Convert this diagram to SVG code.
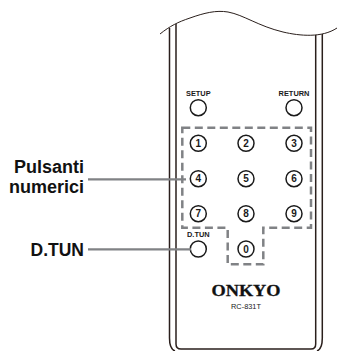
<svg xmlns="http://www.w3.org/2000/svg" width="337" height="351" viewBox="0 0 337 351">
<style>
.body{fill:none;stroke:#2a1f1c;stroke-width:1.500}
.btn circle{fill:#fff;stroke:#1a1a1a;stroke-width:1.500}
.num{font:bold 10px "Liberation Sans",Arial,sans-serif;fill:#1a1a1a;text-anchor:middle}
.tiny{font:bold 7.400px "Liberation Sans",Arial,sans-serif;fill:#1a1a1a;text-anchor:middle}
.lab{font:bold 18px "Liberation Sans",Arial,sans-serif;fill:#111;text-anchor:end}
.lead{fill:none;stroke:#808285;stroke-width:2.300}
.dash{fill:none;stroke:#808285;stroke-width:2.500;stroke-dasharray:8 4.500}
</style>
<rect width="337" height="351" fill="#fff"/>
<g id="remote">
<path class="body" style="stroke-width:1" d="M160 34C170 26 178 22 190 18C204 13 216 10 228 12C244 15 258 26 283 32C300 36 322 38 337 28"/>
<path class="body" d="M169.500 28V338Q169.500 349 175 351M176 24V344Q176 349 181 349H311Q315.700 349 315.700 344V35M322.300 34V338Q322.300 349 317 351"/>
</g>
<g id="numeric-group">
<path class="dash" d="M182.300 127.700H311V227.700H263.300V264.300H227.700V227.700H182.300Z"/>
</g>
<g id="btn-setup" class="btn"><circle cx="198.300" cy="107.700" r="8"/><text class="tiny" x="198.300" y="96">SETUP</text></g>
<g id="btn-return" class="btn"><circle cx="294" cy="107.700" r="8"/><text class="tiny" x="294" y="96">RETURN</text></g>
<g id="btn-1" class="btn"><circle cx="198.300" cy="143.300" r="8"/><text class="num" x="198.300" y="146.800">1</text></g>
<g id="btn-2" class="btn"><circle cx="246" cy="143.300" r="8"/><text class="num" x="246" y="146.800">2</text></g>
<g id="btn-3" class="btn"><circle cx="294" cy="143.300" r="8"/><text class="num" x="294" y="146.800">3</text></g>
<g id="btn-4" class="btn"><circle cx="198.300" cy="178.700" r="8"/><text class="num" x="198.300" y="182.200">4</text></g>
<g id="btn-5" class="btn"><circle cx="246" cy="178.700" r="8"/><text class="num" x="246" y="182.200">5</text></g>
<g id="btn-6" class="btn"><circle cx="294" cy="178.700" r="8"/><text class="num" x="294" y="182.200">6</text></g>
<g id="btn-7" class="btn"><circle cx="198.300" cy="213.700" r="8"/><text class="num" x="198.300" y="217.200">7</text></g>
<g id="btn-8" class="btn"><circle cx="246" cy="213.700" r="8"/><text class="num" x="246" y="217.200">8</text></g>
<g id="btn-9" class="btn"><circle cx="294" cy="213.700" r="8"/><text class="num" x="294" y="217.200">9</text></g>
<g id="btn-0" class="btn"><circle cx="246" cy="249" r="8"/><text class="num" x="246" y="252.500">0</text></g>
<g id="btn-dtun" class="btn"><circle cx="198.300" cy="249" r="8"/><text class="tiny" x="198.300" y="237">D.TUN</text></g>
<g id="connectors">
<path class="lead" d="M88 179.300H186"/>
<path class="lead" d="M88 249.300H191"/>
</g>
<g id="logo">
<text x="246" y="296" text-anchor="middle" textLength="69" lengthAdjust="spacingAndGlyphs" style="font:bold 16px 'Liberation Serif',serif;fill:#111;stroke:#111;stroke-width:.3">ONKYO</text>
<text class="tiny" x="246" y="309" style="font-weight:normal">RC-831T</text>
</g>
<g id="label-pulsanti">
<text class="lab" x="84" y="172.700">Pulsanti</text>
<text class="lab" x="84" y="193">numerici</text>
</g>
<g id="label-dtun"><text class="lab" x="84" y="256" style="font-size:17.500px">D.TUN</text></g>
</svg>
